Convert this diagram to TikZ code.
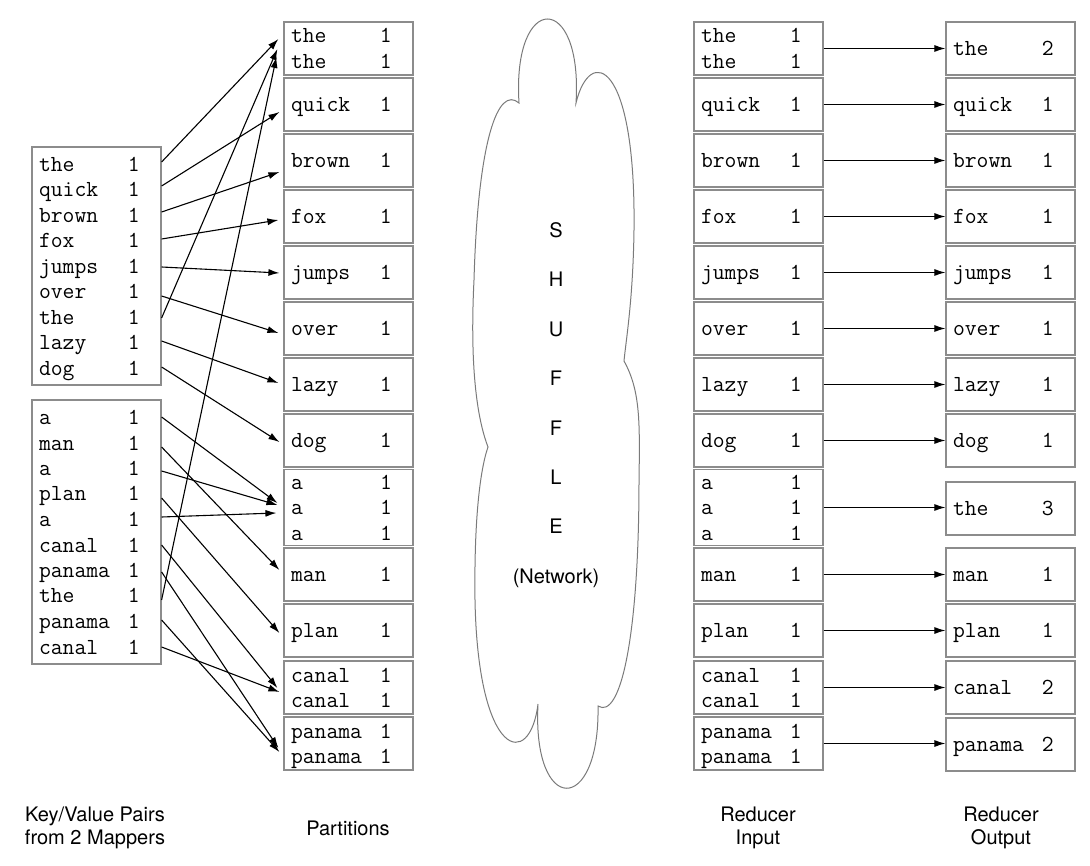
\documentclass[tikz,border=0pt]{standalone}
\usepackage{fontspec}
\newfontfamily\helv{TeX Gyre Heros}
\usetikzlibrary{arrows.meta}
\definecolor{boxgray}{HTML}{8C8C8C}
\definecolor{cloudgray}{HTML}{7A7A7A}
\newcommand\kv[2]{\rule[-5.5pt]{0pt}{25.5pt}\makebox[89pt][l]{#1}#2}
\begin{document}
\begin{tikzpicture}[x=1pt,y=-1pt,
  kvbox/.style={draw=boxgray, line width=1.2pt, rectangle, minimum width=129pt,
    minimum height=53pt, inner xsep=7pt, inner ysep=0pt, text width=115pt,
    align=left, font=\fontsize{23}{25.5}\selectfont\ttfamily},
  arr/.style={-{Latex[length=11pt,width=7pt]}, line width=1.1pt},
  lbl/.style={font=\helv\fontsize{20}{23}\selectfont, align=center}]
\useasboundingbox (0,0) rectangle (1090,866);

% mapper outputs
\node[kvbox, minimum height=238pt] (m1) at (96.5,266)
  {\kv{the}{1}\\\kv{quick}{1}\\\kv{brown}{1}\\\kv{fox}{1}\\\kv{jumps}{1}\\\kv{over}{1}\\\kv{the}{1}\\\kv{lazy}{1}\\\kv{dog}{1}};
\node[kvbox, minimum height=264pt] (m2) at (96.5,532)
  {\kv{a}{1}\\\kv{man}{1}\\\kv{a}{1}\\\kv{plan}{1}\\\kv{a}{1}\\\kv{canal}{1}\\\kv{panama}{1}\\\kv{the}{1}\\\kv{panama}{1}\\\kv{canal}{1}};

% partitions
\node[kvbox] (p1) at (348.5,48.5) {\kv{the}{1}\\\kv{the}{1}};
\node[kvbox] (p2) at (348.5,104.5) {\kv{quick}{1}};
\node[kvbox] (p3) at (348.5,160.5) {\kv{brown}{1}};
\node[kvbox] (p4) at (348.5,216.5) {\kv{fox}{1}};
\node[kvbox] (p5) at (348.5,272.5) {\kv{jumps}{1}};
\node[kvbox] (p6) at (348.5,328.5) {\kv{over}{1}};
\node[kvbox] (p7) at (348.5,384.5) {\kv{lazy}{1}};
\node[kvbox] (p8) at (348.5,440.5) {\kv{dog}{1}};
\node[kvbox, minimum height=75pt] (p9) at (348.5,507.5) {\kv{a}{1}\\\kv{a}{1}\\\kv{a}{1}};
\node[kvbox] (p10) at (348.5,574.5) {\kv{man}{1}};
\node[kvbox] (p11) at (348.5,630.5) {\kv{plan}{1}};
\node[kvbox] (p12) at (348.5,687.5) {\kv{canal}{1}\\\kv{canal}{1}};
\node[kvbox] (p13) at (348.5,743.5) {\kv{panama}{1}\\\kv{panama}{1}};

% reducer input
\node[kvbox] (r1) at (758.5,48.5) {\kv{the}{1}\\\kv{the}{1}};
\node[kvbox] (r2) at (758.5,104.5) {\kv{quick}{1}};
\node[kvbox] (r3) at (758.5,160.5) {\kv{brown}{1}};
\node[kvbox] (r4) at (758.5,216.5) {\kv{fox}{1}};
\node[kvbox] (r5) at (758.5,272.5) {\kv{jumps}{1}};
\node[kvbox] (r6) at (758.5,328.5) {\kv{over}{1}};
\node[kvbox] (r7) at (758.5,384.5) {\kv{lazy}{1}};
\node[kvbox] (r8) at (758.5,440.5) {\kv{dog}{1}};
\node[kvbox, minimum height=75pt] (r9) at (758.5,507.5) {\kv{a}{1}\\\kv{a}{1}\\\kv{a}{1}};
\node[kvbox] (r10) at (758.5,574.5) {\kv{man}{1}};
\node[kvbox] (r11) at (758.5,630.5) {\kv{plan}{1}};
\node[kvbox] (r12) at (758.5,687.5) {\kv{canal}{1}\\\kv{canal}{1}};
\node[kvbox] (r13) at (758.5,743.5) {\kv{panama}{1}\\\kv{panama}{1}};

% reducer output
\node[kvbox] (o1) at (1010.5,48.5) {\kv{the}{2}};
\node[kvbox] (o2) at (1010.5,104.5) {\kv{quick}{1}};
\node[kvbox] (o3) at (1010.5,160.5) {\kv{brown}{1}};
\node[kvbox] (o4) at (1010.5,216.5) {\kv{fox}{1}};
\node[kvbox] (o5) at (1010.5,272.5) {\kv{jumps}{1}};
\node[kvbox] (o6) at (1010.5,328.5) {\kv{over}{1}};
\node[kvbox] (o7) at (1010.5,384.5) {\kv{lazy}{1}};
\node[kvbox] (o8) at (1010.5,440.5) {\kv{dog}{1}};
\node[kvbox] (o9) at (1010.5,508.5) {\kv{the}{3}};
\node[kvbox] (o10) at (1010.5,574.5) {\kv{man}{1}};
\node[kvbox] (o11) at (1010.5,630.5) {\kv{plan}{1}};
\node[kvbox] (o12) at (1010.5,687.5) {\kv{canal}{2}};
\node[kvbox] (o13) at (1010.5,744.5) {\kv{panama}{2}};

% mapper 1 -> partitions
\draw[arr] ([yshift=104pt]m1.east) -- ([xshift=-5pt,yshift=9.5pt]p1.west);
\draw[arr] ([yshift=80pt]m1.east) -- ([xshift=-4pt,yshift=-7.5pt]p2.west);
\draw[arr] ([yshift=54pt]m1.east) -- ([xshift=-4pt,yshift=-11.5pt]p3.west);
\draw[arr] ([yshift=27pt]m1.east) -- ([xshift=-5pt,yshift=-3.5pt]p4.west);
\draw[arr] ([yshift=-1pt]m1.east) -- ([xshift=-4pt,yshift=-0.5pt]p5.west);
\draw[arr] ([yshift=-30pt]m1.east) -- ([xshift=-5pt,yshift=-4.5pt]p6.west);
\draw[arr] ([yshift=-52pt]m1.east) -- ([xshift=-6pt,yshift=-0.5pt]p1.west);
\draw[arr] ([yshift=-75pt]m1.east) -- ([xshift=-5pt,yshift=1.5pt]p7.west);
\draw[arr] ([yshift=-101pt]m1.east) -- ([xshift=-4pt,yshift=-1.5pt]p8.west);

% mapper 2 -> partitions
\draw[arr] ([yshift=115pt]m2.east) -- ([xshift=-6pt,yshift=4.5pt]p9.west);
\draw[arr] ([yshift=85pt]m2.east) -- ([xshift=-4pt,yshift=4.5pt]p10.west);
\draw[arr] ([yshift=61pt]m2.east) -- ([xshift=-6pt,yshift=2.5pt]p9.west);
\draw[arr] ([yshift=34pt]m2.east) -- ([xshift=-4pt,yshift=-2.5pt]p11.west);
\draw[arr] ([yshift=15pt]m2.east) -- ([xshift=-7pt,yshift=-5.5pt]p9.west);
\draw[arr] ([yshift=-13pt]m2.east) -- ([xshift=-6pt,yshift=-0.5pt]p12.west);
\draw[arr] ([yshift=-40pt]m2.east) -- ([xshift=-5pt,yshift=-4.5pt]p13.west);
\draw[arr] ([yshift=-68pt]m2.east) -- ([xshift=-7pt,yshift=-8.5pt]p1.west);
\draw[arr] ([yshift=-88pt]m2.east) -- ([xshift=-4pt,yshift=-8.5pt]p13.west);
\draw[arr] ([yshift=-115pt]m2.east) -- ([xshift=-4pt,yshift=-4.5pt]p12.west);

% reducer arrows
\foreach \i in {1,...,13} {
  \draw[arr] (r\i.east) -- (o\i.west |- r\i.east);
}

% cloud
\draw[cloudgray, line width=1pt] (519,103) .. controls (512,-9) and (583,-9) .. (576,103)
  .. controls (590,45) and (636,60) .. (634,230)
  .. controls (633,300) and (626,340) .. (624,361)
  .. controls (640,390) and (640,420) .. (639,480)
  .. controls (639,640) and (620,720) .. (598,706)
  .. controls (600,816) and (532,816) .. (538,704)
  .. controls (530,770) and (478,760) .. (475,600)
  .. controls (474,520) and (480,470) .. (488,447)
  .. controls (470,400) and (472,320) .. (474,280)
  .. controls (478,140) and (498,85) .. cycle;
\node[font=\helv\fontsize{20}{49.4}\selectfont, align=center] (shuffle) at (556,405)
  {S\\H\\U\\F\\F\\L\\E\\(Network)};

% captions
\node[lbl] (capmap) at (95,828) {Key/Value Pairs\\from 2 Mappers};
\node[lbl] (cappart) at (348,828) {Partitions};
\node[lbl] (capin) at (758,828) {Reducer\\Input};
\node[lbl] (capout) at (1001,828) {Reducer\\Output};
\end{tikzpicture}
\end{document}
